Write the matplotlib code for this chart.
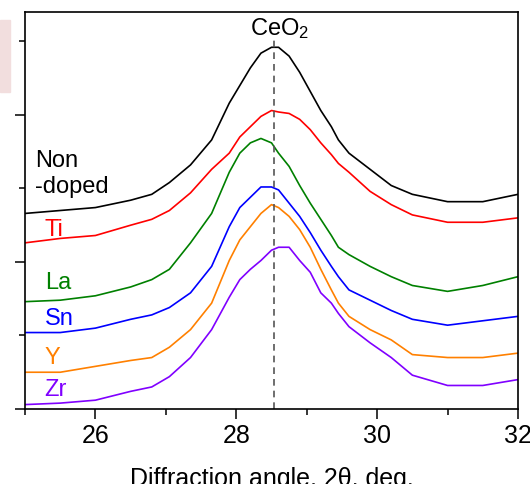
import matplotlib
matplotlib.use("Agg")
import matplotlib.pyplot as plt
from matplotlib.patches import Rectangle
from matplotlib.ticker import MultipleLocator, NullFormatter

plt.rcParams["font.family"] = ["Liberation Sans", "DejaVu Sans"]
plt.rcParams["mathtext.fontset"] = "custom"
plt.rcParams["mathtext.rm"] = "Liberation Sans"
plt.rcParams["mathtext.it"] = "Liberation Sans:italic"

# diffraction angle, 2theta (deg)
angle = [25.0, 25.5, 26.0, 26.5, 26.8, 27.05, 27.35, 27.65, 27.9, 28.05, 28.2,
         28.35, 28.5, 28.6, 28.75, 28.9, 29.05, 29.2, 29.35, 29.45, 29.6,
         29.9, 30.2, 30.5, 31.0, 31.5, 32.0]

# intensities (a.u., stacked with offsets as in the figure)
non_doped = [1.33, 1.35, 1.37, 1.42, 1.46, 1.54, 1.66, 1.83, 2.08, 2.20, 2.32,
             2.42, 2.46, 2.46, 2.40, 2.29, 2.16, 2.03, 1.92, 1.83, 1.74,
             1.63, 1.52, 1.46, 1.41, 1.41, 1.46]
ti = [1.13, 1.16, 1.18, 1.25, 1.29, 1.35, 1.47, 1.63, 1.74, 1.85, 1.92,
      1.99, 2.03, 2.02, 2.01, 1.97, 1.90, 1.81, 1.73, 1.67, 1.61,
      1.48, 1.39, 1.32, 1.27, 1.27, 1.30]
la = [0.73, 0.74, 0.77, 0.83, 0.88, 0.95, 1.13, 1.33, 1.61, 1.74, 1.81,
      1.84, 1.81, 1.74, 1.65, 1.52, 1.40, 1.29, 1.18, 1.10, 1.05,
      0.97, 0.90, 0.84, 0.80, 0.84, 0.90]
sn = [0.52, 0.52, 0.55, 0.61, 0.64, 0.69, 0.79, 0.97, 1.24, 1.37, 1.44,
      1.51, 1.51, 1.49, 1.40, 1.31, 1.20, 1.08, 0.97, 0.90, 0.81,
      0.74, 0.67, 0.61, 0.57, 0.60, 0.63]
y_dop = [0.25, 0.25, 0.29, 0.33, 0.35, 0.42, 0.54, 0.72, 1.01, 1.15, 1.24,
         1.33, 1.39, 1.37, 1.31, 1.22, 1.10, 0.95, 0.81, 0.72, 0.63,
         0.54, 0.47, 0.37, 0.35, 0.35, 0.38]
zr = [0.03, 0.04, 0.06, 0.12, 0.15, 0.22, 0.35, 0.54, 0.76, 0.88, 0.95,
      1.01, 1.08, 1.10, 1.10, 1.01, 0.93, 0.79, 0.72, 0.65, 0.56,
      0.45, 0.35, 0.23, 0.16, 0.16, 0.20]

series = [non_doped, ti, la, sn, y_dop, zr]
colors = ["black", "#ff0000", "#008000", "#0000ff", "#ff8000", "#8000ff"]
labels = ["Non\n-doped", "Ti", "La", "Sn", "Y", "Zr"]
label_x = [25.14, 25.28, 25.28, 25.28, 25.28, 25.28]
label_y = [1.60, 1.22, 0.86, 0.61, 0.35, 0.13]

ceo2_peak = 28.53

fig = plt.figure(figsize=(5.3, 4.84), dpi=100)
ax = fig.add_axes([25 / 530, 75 / 484, 493 / 530, 397 / 484])

for vals, c in zip(series, colors):
    ax.plot(angle, vals, color=c, lw=1.2)

for lab, lx, ly, c in zip(labels, label_x, label_y, colors):
    ax.text(lx, ly, lab, color=c, fontsize=17, ha="left", va="center",
            linespacing=1.25)

ax.plot([ceo2_peak, ceo2_peak], [0, 2.51], ls=(0, (4, 3)), color="#555555",
        lw=1.2)
ax.text(28.62, 2.59, "CeO$_2$", fontsize=17, ha="center", va="center")

ax.set_xlim(25, 32)
ax.set_ylim(0, 2.70)
ax.xaxis.set_major_locator(MultipleLocator(2))
ax.xaxis.set_minor_locator(MultipleLocator(1))
ax.yaxis.set_major_locator(MultipleLocator(1))
ax.yaxis.set_minor_locator(MultipleLocator(0.5))
ax.yaxis.set_major_formatter(NullFormatter())
ax.set_xticks([26, 28, 30, 32])
ax.tick_params(which="major", direction="out", length=7, width=1.1,
               labelsize=18, pad=4)
ax.tick_params(which="minor", direction="out", length=4, width=1.1)
for s in ax.spines.values():
    s.set_linewidth(1.2)

ax.set_xlabel("Diffraction angle, 2θ, deg.", fontsize=18)
ax.xaxis.set_label_coords(0.5, -0.145)

fig.patches.append(Rectangle((0, 1 - 92 / 484), 10 / 530, 72 / 484,
                             transform=fig.transFigure, color="#f2dede",
                             zorder=0))

fig.savefig("out.png", dpi=100)
